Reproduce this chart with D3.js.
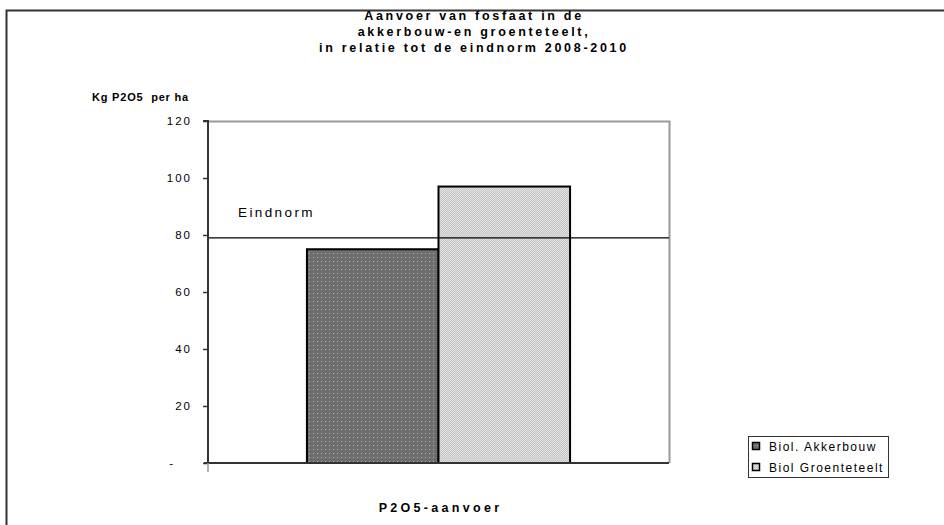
<!DOCTYPE html>
<html><head><meta charset="utf-8">
<script src="https://cdn.jsdelivr.net/npm/d3@7"></script>
<style>body{margin:0;background:#fff}svg{display:block}text{font-family:"Liberation Sans",Arial,sans-serif;white-space:pre}</style>
</head><body><svg id="c" width="944" height="525"></svg>
<script>
const titleLines = ["Aanvoer van fosfaat in de", "akkerbouw-en groenteteelt,", "in relatie tot de eindnorm 2008-2010"];
const categories = ["P2O5-aanvoer"];
const seriesNames = ["Biol. Akkerbouw", "Biol Groenteteelt"];
const seriesValues = [75, 97];
const normValue = 79;
const normLabel = "Eindnorm";
const yTicks = [0, 20, 40, 60, 80, 100, 120];
const yTickLabels = ["-", "20", "40", "60", "80", "100", "120"];
const yTitle = "Kg P2O5  per ha";

const svg = d3.select("#c");
const defs = svg.append("defs");
const p1 = defs.append("pattern").attr("id","pat1").attr("patternUnits","userSpaceOnUse").attr("width",4).attr("height",4);
p1.append("rect").attr("width",4).attr("height",4).attr("fill","#6e6e6e");
p1.append("rect").attr("x",1).attr("y",1).attr("width",1).attr("height",1).attr("fill","#b0b0b0");
const p2 = defs.append("pattern").attr("id","pat2").attr("patternUnits","userSpaceOnUse").attr("width",2).attr("height",2);
p2.append("rect").attr("width",2).attr("height",2).attr("fill","#c4c4c4");
p2.append("rect").attr("width",1).attr("height",1).attr("fill","#e2e2e2");
p2.append("rect").attr("x",1).attr("y",1).attr("width",1).attr("height",1).attr("fill","#e2e2e2");
const fills = ["url(#pat1)", "url(#pat2)"];

// outer frame
svg.append("path").attr("d","M6.5,530V10.5H950").attr("fill","none").attr("stroke","#333").attr("stroke-width",2);

const L=208, R=669, T=121, B=463;
const y = d3.scaleLinear().domain([0,120]).range([B,T]);
const x0 = d3.scaleBand().domain(categories).range([L,R]).paddingInner(0).paddingOuter(0.376);
const x1 = d3.scaleBand().domain(seriesNames).range([0,x0.bandwidth()]);

// plot border gray top/right
svg.append("path").attr("d",`M${L},${T+0.5}H${R+0.5}V${B}`).attr("fill","none").attr("stroke","#999").attr("stroke-width",2);

// title
svg.append("g").selectAll("text").data(titleLines).join("text")
  .attr("x",474).attr("y",(d,i)=>20+i*16).attr("text-anchor","middle")
  .attr("font-size",12.5).attr("font-weight","bold").attr("letter-spacing",2.7).text(d=>d);

svg.append("text").attr("x",92).attr("y",101).attr("font-size",11).attr("font-weight","bold").attr("letter-spacing",0.8).text(yTitle);

// bars
categories.forEach(c=>{
  seriesValues.forEach((v,i)=>{
    svg.append("rect").attr("x",x0(c)+x1(seriesNames[i])).attr("y",y(v))
      .attr("width",x1.bandwidth()).attr("height",B-y(v))
      .attr("fill",fills[i]).attr("stroke","#000").attr("stroke-width",2);
  });
});

// norm line
svg.append("line").attr("x1",L).attr("x2",R).attr("y1",y(normValue)).attr("y2",y(normValue)).attr("stroke","#000").attr("stroke-width",1.2);
svg.append("text").attr("x",238).attr("y",y(normValue)-21).attr("font-size",13.5).attr("letter-spacing",2.4).text(normLabel);

// y axis
const yAxis = d3.axisLeft(y).tickValues(yTicks).tickFormat((d,i)=>yTickLabels[i]).tickSize(5).tickPadding(11);
const ga = svg.append("g").attr("transform",`translate(${L},0)`).call(yAxis);
ga.select(".domain").attr("stroke","#333").attr("stroke-width",2).attr("d",`M-5,${T}H0V${B}`);
ga.selectAll(".tick line").attr("stroke","#333").attr("stroke-width",1.5);
ga.selectAll(".tick text").attr("font-size",11.5).attr("letter-spacing",2).attr("fill","#000").attr("font-family","Liberation Sans, Arial, sans-serif");
ga.selectAll(".tick text").filter(d=>d===0).attr("x",-33);

// x axis
svg.append("line").attr("x1",L-4).attr("x2",R).attr("y1",B).attr("y2",B).attr("stroke","#333").attr("stroke-width",2);
svg.append("line").attr("x1",L).attr("x2",L).attr("y1",B).attr("y2",B+9).attr("stroke","#999").attr("stroke-width",1.5);
svg.append("text").attr("x",x0(categories[0])+x0.bandwidth()/2+2).attr("y",512).attr("text-anchor","middle")
  .attr("font-size",12.5).attr("font-weight","bold").attr("letter-spacing",3.3).text(categories[0]);

// legend
const lg = svg.append("g").attr("transform","translate(748,436)");
lg.append("rect").attr("x",0.5).attr("y",0.5).attr("width",140).attr("height",41).attr("fill","#fff").attr("stroke","#333").attr("stroke-width",1);
seriesNames.forEach((n,i)=>{
  lg.append("rect").attr("x",4.5).attr("y",6.5+i*21).attr("width",7).attr("height",7).attr("fill",fills[i]).attr("stroke","#000").attr("stroke-width",1.5);
  lg.append("text").attr("x",21).attr("y",15+i*21).attr("font-size",12).attr("letter-spacing",1.5).text(n);
});
</script></body></html>
